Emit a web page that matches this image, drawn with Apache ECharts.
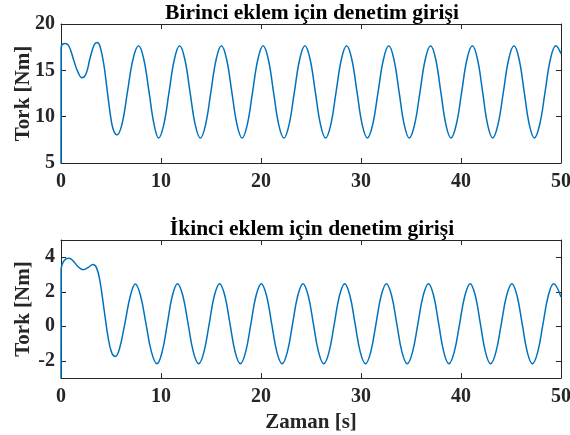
<!DOCTYPE html>
<html>
<head>
<meta charset="utf-8">
<script src="https://cdn.jsdelivr.net/npm/echarts@6/dist/echarts.min.js"></script>
<style>
html,body{margin:0;padding:0;background:#fff;}
#c{width:570px;height:435px;}
</style>
</head>
<body>
<div id="c"></div>
<script>
// ---- Data ----
var titleTop = 'Birinci eklem için denetim girişi';
var titleBottom = 'İkinci eklem için denetim girişi';
var yName = 'Tork [Nm]';
var xName = 'Zaman [s]';
var xTicks = [0, 10, 20, 30, 40, 50];
var yTicksTop = [5, 10, 15, 20];
var yTicksBottom = [-2, 0, 2, 4];

var tTop = [0, 0.01, 0.15, 0.4, 0.8, 1.3, 1.7, 2.1, 2.5, 2.9, 3.3, 3.6, 3.9, 4.3, 4.6, 4.9, 5.2, 5.6, 6.1, 6.65, 7.2, 7.76, 8.28, 8.8, 9.3, 9.76,
  10.28, 10.81, 11.34, 11.86, 12.38, 12.9, 13.42, 13.94, 14.46, 14.99, 15.52, 16.04, 16.56, 17.08, 17.6, 18.11,
  18.63, 19.16, 19.69, 20.21, 20.73, 21.25, 21.77, 22.29, 22.81, 23.34, 23.87, 24.39, 24.91, 25.43, 25.95, 26.46,
  26.98, 27.51, 28.04, 28.56, 29.08, 29.6, 30.12, 30.64, 31.17, 31.71, 32.25, 32.78, 33.29, 33.81, 34.32, 34.83,
  35.36, 35.9, 36.43, 36.96, 37.47, 37.98, 38.49, 39.0, 39.53, 40.07, 40.6, 41.14, 41.65, 42.16, 42.66, 43.17,
  43.7, 44.24, 44.77, 45.3, 45.81, 46.32, 46.83, 47.34, 47.87, 48.41, 48.94, 49.48, 50];
var torkTop = [5, 17.5, 17.8, 17.9, 17.6, 16.0, 14.8, 14.2, 14.6, 16.3, 17.7, 18.0, 17.6, 15.5, 13.0, 10.5, 8.7, 8.05, 9.2, 12.7, 16.2, 17.65, 16.2, 12.7, 9.2, 7.7,
  9.15, 12.68, 16.2, 17.65, 16.2, 12.68, 9.15, 7.7, 9.15, 12.68, 16.2, 17.65, 16.2, 12.68, 9.15, 7.7,
  9.15, 12.68, 16.2, 17.65, 16.2, 12.68, 9.15, 7.7, 9.15, 12.68, 16.2, 17.65, 16.2, 12.68, 9.15, 7.7,
  9.15, 12.68, 16.2, 17.65, 16.2, 12.68, 9.15, 7.7, 9.15, 12.68, 16.2, 17.65, 16.2, 12.68, 9.15, 7.7,
  9.15, 12.68, 16.2, 17.65, 16.2, 12.68, 9.15, 7.7, 9.15, 12.68, 16.2, 17.65, 16.2, 12.68, 9.15, 7.7,
  9.15, 12.68, 16.2, 17.65, 16.2, 12.68, 9.15, 7.7, 9.15, 12.68, 16.2, 17.65, 16.8];

var tBottom = [0, 0.01, 0.2, 0.5, 0.8, 1.2, 1.7, 2.2, 2.7, 3.2, 3.55, 3.9, 4.3, 4.7, 5.05, 5.43, 5.85, 6.4, 6.95, 7.43, 7.95, 8.5, 9.05, 9.6,
  10.11, 10.63, 11.14, 11.65, 12.18, 12.71, 13.24, 13.77, 14.29, 14.82, 15.34, 15.86, 16.38, 16.9, 17.42, 17.94,
  18.46, 18.99, 19.51, 20.03, 20.55, 21.07, 21.59, 22.11, 22.63, 23.16, 23.68, 24.2, 24.72, 25.24, 25.76, 26.28,
  26.8, 27.33, 27.85, 28.37, 28.89, 29.41, 29.93, 30.45, 30.97, 31.5, 32.02, 32.54, 33.06, 33.58, 34.1, 34.62,
  35.15, 35.69, 36.22, 36.75, 37.26, 37.77, 38.28, 38.79, 39.32, 39.86, 40.39, 40.92, 41.43, 41.94, 42.45, 42.96,
  43.49, 44.03, 44.56, 45.09, 45.6, 46.12, 46.63, 47.14, 47.67, 48.2, 48.73, 49.26, 50];
var torkBottom = [-3, 3.3, 3.7, 3.9, 3.94, 3.8, 3.45, 3.28, 3.4, 3.58, 3.4, 2.6, 1.0, -0.6, -1.5, -1.75, -1.3, 0.2, 1.8, 2.45, 1.78, 0.14, -1.5, -2.18,
  -1.5, 0.14, 1.78, 2.47, 1.78, 0.14, -1.5, -2.18, -1.5, 0.14, 1.78, 2.47, 1.78, 0.14, -1.5, -2.18,
  -1.5, 0.14, 1.78, 2.47, 1.78, 0.14, -1.5, -2.18, -1.5, 0.14, 1.78, 2.47, 1.78, 0.14, -1.5, -2.18,
  -1.5, 0.14, 1.78, 2.47, 1.78, 0.14, -1.5, -2.18, -1.5, 0.14, 1.78, 2.47, 1.78, 0.14, -1.5, -2.18,
  -1.5, 0.14, 1.78, 2.47, 1.78, 0.14, -1.5, -2.18, -1.5, 0.14, 1.78, 2.47, 1.78, 0.14, -1.5, -2.18,
  -1.5, 0.14, 1.78, 2.47, 1.78, 0.14, -1.5, -2.18, -1.5, 0.14, 1.78, 2.47, 1.7];

// ---- Chart ----
var FONT = '"Liberation Serif", "Times New Roman", serif';
var AX = '#262626';
var LINE = '#0072BD';

function pairs(xs, ys) { return xs.map(function (x, i) { return [x, ys[i]]; }); }

function xAxisDef(grid, pos, showLabel, showName) {
  return {
    type: 'value', gridIndex: grid, position: pos, min: 0, max: 50, interval: 10,
    axisLine: { show: true, onZero: false, lineStyle: { color: AX, width: 1 } },
    axisTick: { show: true, inside: true, length: 5, lineStyle: { color: AX }, customValues: xTicks },
    axisLabel: { show: showLabel, customValues: xTicks, color: AX, fontFamily: FONT, fontWeight: 'bold', fontSize: 20, margin: 9 },
    splitLine: { show: false },
    name: showName ? xName : '', nameLocation: 'middle', nameGap: 34, nameMoveOverlap: false,
    nameTextStyle: { color: AX, fontFamily: FONT, fontWeight: 'bold', fontSize: 21 }
  };
}
function yAxisDef(grid, pos, min, max, ticks, showLabel) {
  return {
    type: 'value', gridIndex: grid, position: pos, min: min, max: max,
    axisLine: { show: true, onZero: false, lineStyle: { color: AX, width: 1 } },
    axisTick: { show: true, inside: true, length: 5, lineStyle: { color: AX }, customValues: ticks },
    axisLabel: { show: showLabel, customValues: ticks, color: AX, fontFamily: FONT, fontWeight: 'bold', fontSize: 20, margin: 6 },
    splitLine: { show: false },
    name: showLabel ? yName : '', nameLocation: 'middle', nameGap: 27, nameRotate: 90, nameMoveOverlap: false,
    nameTextStyle: { color: AX, fontFamily: FONT, fontWeight: 'bold', fontSize: 21 }
  };
}

var chart = echarts.init(document.getElementById('c'), null, { renderer: 'canvas' });
chart.setOption({
  animation: false,
  backgroundColor: '#fff',
  title: [
    { text: titleTop, left: 307, top: -3, textAlign: 'center',
      textStyle: { fontFamily: FONT, fontWeight: 'bold', fontSize: 21.5, color: '#000' } },
    { text: titleBottom, left: 307, top: 213, textAlign: 'center',
      textStyle: { fontFamily: FONT, fontWeight: 'bold', fontSize: 21.5, color: '#000' } }
  ],
  grid: [
    { left: 61, top: 24, width: 500, height: 139, show: false, containLabel: false, outerBoundsMode: 'none' },
    { left: 61, top: 240, width: 500, height: 138, show: false, containLabel: false, outerBoundsMode: 'none' }
  ],
  xAxis: [
    xAxisDef(0, 'bottom', true, false),
    xAxisDef(0, 'top', false, false),
    xAxisDef(1, 'bottom', true, true),
    xAxisDef(1, 'top', false, false)
  ],
  yAxis: [
    yAxisDef(0, 'left', 5, 20, yTicksTop, true),
    yAxisDef(0, 'right', 5, 20, yTicksTop, false),
    yAxisDef(1, 'left', -3, 5, yTicksBottom, true),
    yAxisDef(1, 'right', -3, 5, yTicksBottom, false)
  ],
  series: [
    { type: 'line', xAxisIndex: 0, yAxisIndex: 0, data: pairs(tTop, torkTop),
      showSymbol: false, smooth: 0.4, lineStyle: { color: LINE, width: 1.5 }, z: 3 },
    { type: 'line', xAxisIndex: 2, yAxisIndex: 2, data: pairs(tBottom, torkBottom),
      showSymbol: false, smooth: 0.4, lineStyle: { color: LINE, width: 1.5 }, z: 3 }
  ]
});
</script>
</body>
</html>
